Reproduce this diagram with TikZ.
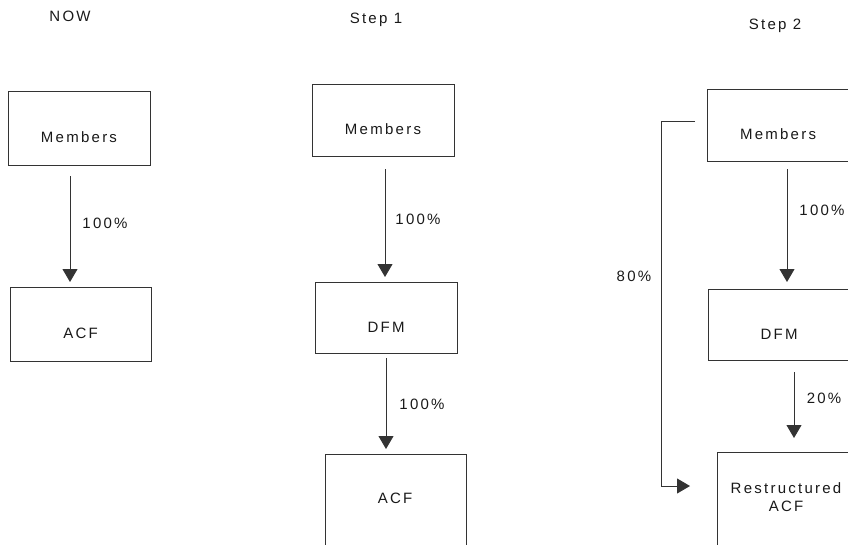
\documentclass[tikz,border=0pt]{standalone}
\usepackage{fontspec}
\setmainfont{Liberation Sans}[LetterSpace=15]
\usetikzlibrary{arrows.meta}
\begin{document}
\begin{tikzpicture}[x=1pt,y=-1pt,
  every node/.style={font=\fontsize{15pt}{17.5pt}\selectfont, text=black!90},
  box/.style={draw=black!80, line width=0.9pt, minimum height=72pt, text height=29pt, text depth=0pt, inner sep=0pt},
  lbl/.style={text height=10.5pt, text depth=0pt, inner sep=0pt},
  arr/.style={draw=black!80, line width=0.9pt, -{Triangle[width=15pt,length=13pt]}}]
\useasboundingbox (0,0) rectangle (848,544);
\clip (0,0) rectangle (848,544);
% titles
\node[lbl] (t0) at (70,16) {NOW};
\node[lbl] (t1) at (376,18) {Step 1};
\node[lbl] (t2) at (775,24) {Step 2};
% NOW column
\node[box, minimum width=142pt, minimum height=74pt] (m0) at (79,128) {Members};
\node[box, minimum width=141pt, minimum height=74pt] (a0) at (80.5,324) {ACF};
\draw[arr] (70,176) coordinate (s0) -- (70,282) coordinate (e0);
\node[lbl] (p0) at (105,223) {100\%};
% Step 1 column
\node[box, minimum width=142pt] (m1) at (383,120) {Members};
\node[box, minimum width=142pt, minimum height=71pt] (d1) at (386,317.5) {DFM};
\node[draw=black!80, line width=0.9pt, minimum width=141pt, minimum height=120pt, inner sep=0pt] (a1) at (395.5,514) {};
\node[lbl] (a1t) at (395,498) {ACF};
\coordinate (s1) at (385,169); \coordinate (e1) at (385,277);
\coordinate (s2) at (386,358); \coordinate (e2) at (386,449);
\draw[arr] (s1) -- (e1);
\draw[arr] (s2) -- (e2);
\node[lbl] (p1) at (418,219) {100\%};
\node[lbl] (p2) at (422,404) {100\%};
% Step 2 column
\node[box, minimum width=142pt] (m2) at (778,125) {Members};
\node[box, minimum width=142pt, minimum height=71pt] (d2) at (779,324.5) {DFM};
\node[draw=black!80, line width=0.9pt, minimum width=142pt, minimum height=120pt, inner sep=0pt] (r2) at (788,512) {};
\node[align=center, inner sep=0pt] (r2t) at (786,497) {Restructured\\ACF};
\coordinate (s3) at (787,169); \coordinate (e3) at (787,282);
\coordinate (s4) at (794,372); \coordinate (e4) at (794,438);
\draw[arr] (s3) -- (e3);
\draw[arr] (s4) -- (e4);
\node[lbl] (p3) at (822,210) {100\%};
\node[lbl] (p4) at (824,398) {20\%};
\coordinate (b0) at (695,121); \coordinate (b1) at (661,121);
\coordinate (b2) at (661,486); \coordinate (b3) at (690,486);
\draw[arr] (b0) -- (b1) -- (b2) -- (b3);
\node[lbl] (p5) at (634,276) {80\%};
\end{tikzpicture}
\end{document}
